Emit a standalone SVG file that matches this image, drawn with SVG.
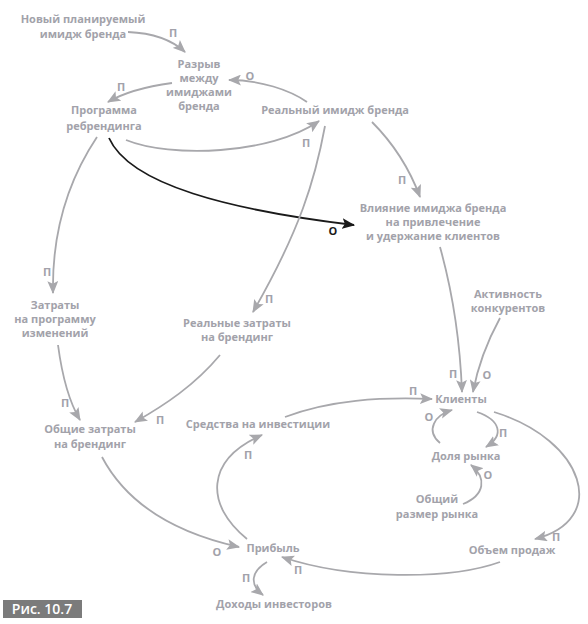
<svg xmlns="http://www.w3.org/2000/svg" width="588" height="624" viewBox="0 0 588 624">
<style>
  .t { font-family: "Open Sans", "Liberation Sans", sans-serif; font-weight: bold; font-size: 11px; fill: #a2a2aa; text-anchor: middle; }
  .l { font-family: "Open Sans", "Liberation Sans", sans-serif; font-weight: bold; font-size: 11px; fill: #a2a2aa; text-anchor: middle; }
  .lb { fill: #1a1a1a; }
  .c { fill: none; stroke: #a8a8ac; stroke-width: 1.8; marker-end: url(#ag); }
  .cb { fill: none; stroke: #1a1a1a; stroke-width: 1.8; marker-end: url(#ab); }
</style>
<defs>
  <marker id="ag" viewBox="0 0 12 10" refX="11" refY="5" markerWidth="13" markerHeight="11" markerUnits="userSpaceOnUse" orient="auto">
    <path d="M0,0 L12,5 L0,10 L2.5,5 z" fill="#a8a8ac"/>
  </marker>
  <marker id="ab" viewBox="0 0 12 10" refX="11" refY="5" markerWidth="13" markerHeight="11" markerUnits="userSpaceOnUse" orient="auto">
    <path d="M0,0 L12,5 L0,10 L2.5,5 z" fill="#1a1a1a"/>
  </marker>
</defs>
<rect width="588" height="624" fill="#ffffff"/>

<g id="connectors">
  <path class="c" d="M128,32 C152,33 172,40 185,52"/>
  <path class="c" d="M307,102 C290,90 260,80 229,80"/>
  <path class="c" d="M172,83 C150,86 125,92 108,102"/>
  <path class="c" d="M126,140 C170,158 270,155 319,121"/>
  <path class="cb" d="M109,138 C130,185 230,210 354,225"/>
  <path class="c" d="M325,126 C315,180 300,230 253,312"/>
  <path class="c" d="M372,122 C395,145 410,170 420,197"/>
  <path class="c" d="M97,137 C65,185 52,240 53,293"/>
  <path class="c" d="M58,345 C62,375 68,400 80,420"/>
  <path class="c" d="M220,355 C195,385 165,405 135,422"/>
  <path class="c" d="M102,457 C130,510 185,535 239,547"/>
  <path class="c" d="M247,539 C205,505 205,460 262,435"/>
  <path class="c" d="M285,417 C330,400 380,397 432,399"/>
  <path class="c" d="M440,247 C452,290 460,340 462,392"/>
  <path class="c" d="M500,318 C488,340 478,365 473,392"/>
  <path class="c" d="M477,412 C500,420 505,435 486,447"/>
  <path class="c" d="M440,443 C425,430 435,415 452,410"/>
  <path class="c" d="M463,504 C485,495 487,478 471,465"/>
  <path class="c" d="M494,412 C585,440 610,520 535,539"/>
  <path class="c" d="M500,562 C450,580 350,580 282,557"/>
  <path class="c" d="M267,562 C250,572 250,585 263,595"/>

  <text class="l" x="173" y="37">П</text>
  <text class="l" x="250" y="80">О</text>
  <text class="l" x="121" y="91">П</text>
  <text class="l" x="306" y="147">П</text>
  <text class="l lb" x="333" y="235">О</text>
  <text class="l" x="269" y="303">П</text>
  <text class="l" x="402" y="184">П</text>
  <text class="l" x="47" y="276">П</text>
  <text class="l" x="65" y="407">П</text>
  <text class="l" x="160" y="424">П</text>
  <text class="l" x="217" y="556">О</text>
  <text class="l" x="248" y="459">П</text>
  <text class="l" x="413" y="395">П</text>
  <text class="l" x="453" y="378">П</text>
  <text class="l" x="487" y="379">О</text>
  <text class="l" x="503" y="437">П</text>
  <text class="l" x="429" y="421">О</text>
  <text class="l" x="488" y="479">О</text>
  <text class="l" x="556" y="541">П</text>
  <text class="l" x="298" y="574">П</text>
  <text class="l" x="246" y="582">П</text>
</g>

<g id="n1"><text class="t" x="83" y="23">Новый планируемый</text><text class="t" x="83" y="38">имидж бренда</text></g>
<g id="n2"><text class="t" x="199" y="68">Разрыв</text><text class="t" x="199" y="82">между</text><text class="t" x="199" y="96">имиджами</text><text class="t" x="199" y="110">бренда</text></g>
<g id="n3"><text class="t" x="104" y="114">Программа</text><text class="t" x="104" y="130">ребрендинга</text></g>
<g id="n4"><text class="t" x="335" y="114">Реальный имидж бренда</text></g>
<g id="n5"><text class="t" x="433" y="212">Влияние имиджа бренда</text><text class="t" x="433" y="226">на привлечение</text><text class="t" x="433" y="240">и удержание клиентов</text></g>
<g id="n6"><text class="t" x="55" y="309">Затраты</text><text class="t" x="55" y="323">на программу</text><text class="t" x="55" y="337">изменений</text></g>
<g id="n7"><text class="t" x="237" y="327">Реальные затраты</text><text class="t" x="237" y="341">на брендинг</text></g>
<g id="n8"><text class="t" x="508" y="298">Активность</text><text class="t" x="508" y="312">конкурентов</text></g>
<g id="n9"><text class="t" x="461" y="403">Клиенты</text></g>
<g id="n10"><text class="t" x="258" y="428">Средства на инвестиции</text></g>
<g id="n11"><text class="t" x="466" y="460">Доля рынка</text></g>
<g id="n12"><text class="t" x="90" y="433">Общие затраты</text><text class="t" x="90" y="448">на брендинг</text></g>
<g id="n13"><text class="t" x="437" y="503">Общий</text><text class="t" x="437" y="518">размер рынка</text></g>
<g id="n14"><text class="t" x="512" y="554">Объем продаж</text></g>
<g id="n15"><text class="t" x="273" y="552">Прибыль</text></g>
<g id="n16"><text class="t" x="274" y="608">Доходы инвесторов</text></g>

<g id="figlabel">
  <rect x="3" y="600" width="79" height="18" fill="#7b7b7b"/>
  <text x="42" y="614" style="font-family:'Open Sans','Liberation Sans',sans-serif;font-weight:600;font-size:14px;fill:#ffffff;text-anchor:middle">Рис. 10.7</text>
</g>
</svg>
